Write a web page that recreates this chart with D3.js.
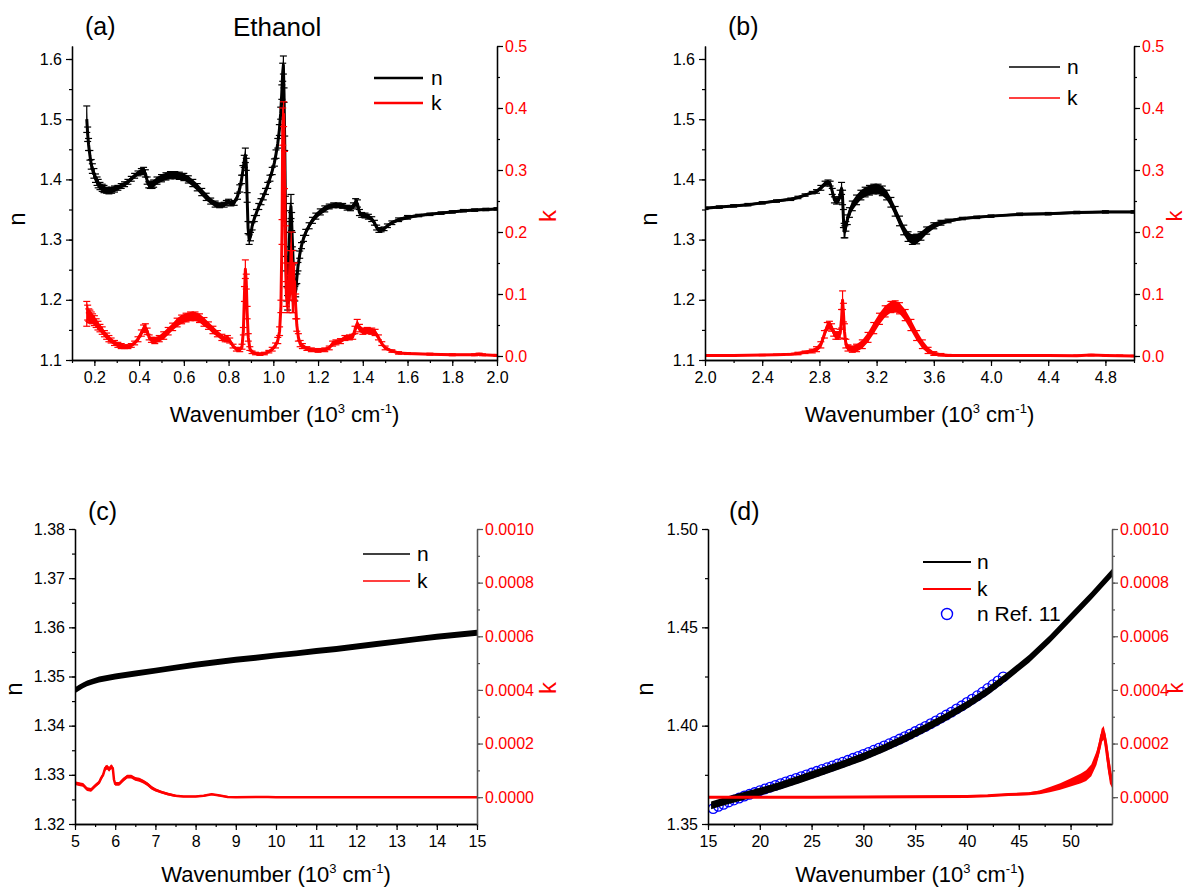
<!DOCTYPE html>
<html lang="en">
<head>
<meta charset="utf-8" />
<title>Ethanol n and k</title>
<script src="https://cdn.jsdelivr.net/npm/d3@7"></script>
<style>
  body { margin: 0; background: #fff; }
  svg text { font-family: Arial, "Liberation Sans", sans-serif; }
</style>
</head>
<body>
<svg id="chart" width="1187" height="888"></svg>
<script>
// data: [wavenumber (10^3 cm-1), value, error]
// panel (a), 0.1 - 2.0
var aN = [
  [0.166,1.500,0.022],[0.170,1.475,0.012],[0.174,1.458,0.010],[0.180,1.440,0.008],[0.186,1.425,0.008],
  [0.191,1.418,0.008],[0.198,1.410,0.008],[0.205,1.402,0.007],[0.212,1.397,0.007],[0.217,1.393,0.007],
  [0.225,1.389,0.006],[0.235,1.386,0.006],[0.243,1.384,0.006],[0.255,1.382,0.005],[0.265,1.381,0.005],
  [0.277,1.382,0.005],[0.290,1.384,0.005],[0.305,1.386,0.004],[0.320,1.389,0.004],[0.335,1.392,0.004],
  [0.350,1.396,0.004],[0.365,1.401,0.004],[0.380,1.406,0.004],[0.395,1.410,0.004],[0.410,1.413,0.005],
  [0.420,1.414,0.006],[0.428,1.410,0.006],[0.436,1.398,0.006],[0.443,1.391,0.005],[0.450,1.390,0.005],
  [0.458,1.391,0.006],[0.465,1.393,0.006],[0.480,1.398,0.006],[0.500,1.402,0.006],[0.520,1.405,0.006],
  [0.540,1.407,0.006],[0.560,1.407,0.006],[0.580,1.406,0.006],[0.600,1.404,0.006],[0.620,1.400,0.006],
  [0.640,1.394,0.006],[0.660,1.387,0.006],[0.680,1.379,0.006],[0.700,1.371,0.006],[0.720,1.364,0.005],
  [0.740,1.359,0.005],[0.760,1.357,0.004],[0.780,1.358,0.004],[0.790,1.361,0.004],[0.800,1.363,0.004],
  [0.810,1.360,0.004],[0.825,1.361,0.004],[0.840,1.372,0.005],[0.850,1.385,0.006],[0.858,1.400,0.007],
  [0.864,1.415,0.008],[0.870,1.430,0.010],[0.875,1.440,0.012],[0.879,1.425,0.010],[0.883,1.370,0.008],
  [0.887,1.320,0.010],[0.892,1.300,0.008],[0.898,1.305,0.007],[0.905,1.322,0.006],[0.915,1.335,0.005],
  [0.925,1.345,0.005],[0.935,1.355,0.005],[0.945,1.363,0.005],[0.955,1.371,0.005],[0.965,1.380,0.005],
  [0.975,1.390,0.005],[0.985,1.402,0.005],[0.995,1.414,0.006],[1.005,1.428,0.006],[1.012,1.442,0.007],
  [1.020,1.460,0.008],[1.027,1.482,0.009],[1.033,1.510,0.010],[1.038,1.545,0.012],[1.042,1.578,0.015],
  [1.045,1.590,0.015],[1.048,1.540,0.012],[1.051,1.460,0.012],[1.054,1.360,0.012],[1.057,1.260,0.012],
  [1.060,1.210,0.012],[1.064,1.195,0.012],[1.068,1.230,0.012],[1.072,1.300,0.012],[1.076,1.345,0.015],
  [1.079,1.355,0.020],[1.082,1.330,0.015],[1.085,1.300,0.012],[1.088,1.270,0.012],[1.092,1.230,0.012],
  [1.096,1.210,0.012],[1.100,1.215,0.010],[1.105,1.235,0.008],[1.110,1.255,0.007],[1.118,1.275,0.006],
  [1.126,1.290,0.005],[1.135,1.302,0.005],[1.145,1.312,0.005],[1.160,1.323,0.005],[1.175,1.332,0.005],
  [1.190,1.339,0.005],[1.210,1.346,0.005],[1.230,1.351,0.005],[1.250,1.355,0.004],[1.270,1.357,0.004],
  [1.290,1.357,0.004],[1.310,1.356,0.004],[1.330,1.353,0.004],[1.345,1.352,0.004],[1.358,1.356,0.005],
  [1.368,1.362,0.006],[1.376,1.360,0.006],[1.385,1.345,0.005],[1.395,1.341,0.004],[1.410,1.340,0.004],
  [1.425,1.338,0.004],[1.440,1.334,0.004],[1.452,1.328,0.004],[1.462,1.320,0.004],[1.472,1.316,0.004],
  [1.482,1.316,0.003],[1.495,1.318,0.003],[1.510,1.323,0.003],[1.530,1.328,0.003],[1.560,1.333,0.003],
  [1.600,1.337,0.003],[1.650,1.340,0.002],[1.700,1.342,0.002],[1.750,1.344,0.002],[1.800,1.346,0.002],
  [1.850,1.348,0.002],[1.900,1.349,0.002],[1.950,1.350,0.002],[2.000,1.351,0.002]
];
var aK = [
  [0.166,0.068,0.020],[0.170,0.070,0.012],[0.175,0.066,0.010],[0.180,0.064,0.010],[0.186,0.062,0.009],
  [0.192,0.060,0.008],[0.200,0.057,0.008],[0.208,0.053,0.007],[0.216,0.049,0.007],[0.225,0.045,0.006],
  [0.235,0.041,0.006],[0.245,0.036,0.005],[0.255,0.032,0.005],[0.265,0.028,0.005],[0.275,0.025,0.004],
  [0.290,0.021,0.004],[0.305,0.018,0.004],[0.320,0.016,0.004],[0.335,0.015,0.003],[0.350,0.015,0.003],
  [0.365,0.017,0.003],[0.380,0.021,0.003],[0.395,0.027,0.004],[0.410,0.037,0.005],[0.420,0.044,0.006],
  [0.428,0.046,0.006],[0.436,0.040,0.005],[0.445,0.030,0.004],[0.455,0.026,0.004],[0.470,0.025,0.005],
  [0.490,0.028,0.005],[0.510,0.033,0.006],[0.530,0.040,0.006],[0.550,0.047,0.006],[0.570,0.054,0.007],
  [0.590,0.059,0.007],[0.610,0.062,0.007],[0.630,0.064,0.007],[0.650,0.064,0.007],[0.670,0.061,0.007],
  [0.690,0.055,0.007],[0.710,0.049,0.006],[0.730,0.042,0.006],[0.750,0.036,0.005],[0.770,0.030,0.005],
  [0.785,0.027,0.004],[0.795,0.028,0.005],[0.805,0.025,0.004],[0.820,0.016,0.003],[0.835,0.011,0.003],
  [0.850,0.010,0.003],[0.860,0.015,0.004],[0.866,0.040,0.006],[0.871,0.100,0.012],[0.875,0.140,0.015],
  [0.879,0.120,0.012],[0.883,0.070,0.010],[0.888,0.030,0.006],[0.895,0.012,0.003],[0.905,0.006,0.002],
  [0.920,0.004,0.002],[0.940,0.003,0.002],[0.960,0.004,0.002],[0.980,0.007,0.002],[0.995,0.011,0.003],
  [1.010,0.017,0.004],[1.020,0.025,0.005],[1.028,0.040,0.007],[1.034,0.080,0.010],[1.039,0.200,0.020],
  [1.042,0.370,0.030],[1.046,0.390,0.020],[1.050,0.300,0.030],[1.054,0.180,0.030],[1.058,0.100,0.020],
  [1.062,0.090,0.020],[1.066,0.120,0.030],[1.070,0.100,0.030],[1.075,0.130,0.040],[1.080,0.150,0.050],
  [1.085,0.120,0.050],[1.090,0.110,0.040],[1.095,0.120,0.030],[1.100,0.080,0.020],[1.105,0.050,0.010],
  [1.112,0.030,0.006],[1.120,0.020,0.005],[1.130,0.016,0.004],[1.150,0.012,0.003],[1.170,0.010,0.003],
  [1.200,0.009,0.003],[1.230,0.010,0.003],[1.250,0.013,0.003],[1.265,0.020,0.004],[1.280,0.022,0.004],
  [1.300,0.024,0.004],[1.320,0.029,0.004],[1.340,0.030,0.004],[1.355,0.031,0.004],[1.365,0.042,0.006],
  [1.375,0.052,0.007],[1.385,0.045,0.006],[1.400,0.040,0.005],[1.420,0.041,0.005],[1.440,0.040,0.005],
  [1.455,0.038,0.005],[1.470,0.030,0.004],[1.485,0.020,0.003],[1.500,0.013,0.003],[1.530,0.008,0.002],
  [1.560,0.005,0.002],[1.600,0.004,0.0015],[1.700,0.003,0.0015],[1.800,0.002,0.0015],[1.900,0.002,0.0015],
  [1.920,0.003,0.0015],[1.935,0.002,0.0015],[2.000,0.001,0.0015]
];

// panel (b), 2.0 - 5.0
var bN = [
  [2.00,1.352,0.002],[2.10,1.354,0.002],[2.20,1.356,0.002],[2.30,1.358,0.002],[2.40,1.361,0.002],
  [2.50,1.364,0.002],[2.60,1.367,0.002],[2.65,1.370,0.002],[2.70,1.374,0.002],[2.75,1.378,0.002],
  [2.78,1.380,0.003],[2.81,1.386,0.004],[2.84,1.393,0.004],[2.86,1.395,0.004],[2.875,1.393,0.004],
  [2.89,1.380,0.005],[2.905,1.366,0.005],[2.92,1.364,0.005],[2.935,1.366,0.005],[2.945,1.375,0.007],
  [2.955,1.385,0.010],[2.962,1.370,0.012],[2.968,1.335,0.015],[2.973,1.315,0.012],[2.978,1.313,0.010],
  [2.985,1.322,0.008],[2.995,1.333,0.008],[3.01,1.345,0.008],[3.03,1.356,0.008],[3.06,1.366,0.008],
  [3.09,1.374,0.008],[3.12,1.379,0.008],[3.15,1.382,0.008],[3.18,1.384,0.008],[3.21,1.384,0.008],
  [3.24,1.381,0.008],[3.27,1.374,0.008],[3.30,1.362,0.008],[3.33,1.347,0.008],[3.36,1.331,0.008],
  [3.39,1.316,0.008],[3.42,1.305,0.008],[3.45,1.300,0.008],[3.48,1.301,0.008],[3.51,1.306,0.007],
  [3.55,1.315,0.006],[3.60,1.323,0.005],[3.65,1.328,0.004],[3.70,1.331,0.003],[3.80,1.335,0.002],
  [3.90,1.337,0.002],[4.00,1.339,0.002],[4.20,1.342,0.002],[4.40,1.343,0.002],[4.60,1.345,0.002],
  [4.80,1.346,0.002],[5.00,1.346,0.002]
];
var bK = [
  [2.00,0.001,0.001],[2.20,0.001,0.001],[2.40,0.0015,0.001],[2.50,0.002,0.001],[2.60,0.003,0.001],
  [2.65,0.004,0.002],[2.70,0.006,0.002],[2.75,0.008,0.003],[2.78,0.011,0.004],[2.81,0.018,0.005],
  [2.835,0.035,0.006],[2.855,0.048,0.006],[2.87,0.050,0.006],[2.885,0.046,0.006],[2.90,0.038,0.006],
  [2.915,0.033,0.006],[2.93,0.033,0.006],[2.945,0.036,0.007],[2.955,0.060,0.015],[2.962,0.090,0.015],
  [2.968,0.070,0.015],[2.975,0.040,0.012],[2.985,0.020,0.007],[3.00,0.013,0.005],[3.03,0.011,0.005],
  [3.06,0.013,0.006],[3.10,0.019,0.007],[3.14,0.030,0.008],[3.18,0.045,0.009],[3.22,0.060,0.009],
  [3.26,0.072,0.009],[3.30,0.079,0.009],[3.33,0.080,0.009],[3.36,0.077,0.009],[3.40,0.066,0.009],
  [3.44,0.050,0.009],[3.48,0.033,0.008],[3.52,0.019,0.007],[3.56,0.009,0.005],[3.60,0.004,0.003],
  [3.65,0.002,0.002],[3.70,0.001,0.0015],[3.80,0.001,0.001],[4.00,0.001,0.001],[4.20,0.001,0.001],
  [4.40,0.001,0.001],[4.60,0.0005,0.001],[4.70,0.0015,0.001],[4.80,0.001,0.001],[4.90,0.0005,0.001],
  [5.00,0.000,0.001]
];

// panel (c), 5 - 15
var cN = [
  [5.0,1.3472,0.0006],[5.1,1.3477,0.0006],[5.2,1.3482,0.0006],[5.3,1.3486,0.0006],[5.45,1.3490,0.0006],
  [5.6,1.3494,0.0006],[5.8,1.3497,0.0006],[6.0,1.3500,0.0006],[6.5,1.3506,0.0006],[7.0,1.3512,0.0006],
  [7.5,1.3518,0.0006],[8.0,1.3524,0.0006],[8.5,1.3529,0.0006],[9.0,1.3534,0.0006],[9.5,1.3538,0.0006],
  [10.0,1.3543,0.0006],[10.5,1.3547,0.0006],[11.0,1.3552,0.0006],[11.5,1.3556,0.0006],[12.0,1.3561,0.0006],
  [12.5,1.3566,0.0006],[13.0,1.3571,0.0006],[13.5,1.3576,0.0006],[14.0,1.3581,0.0006],[14.5,1.3585,0.0006],
  [15.0,1.3589,0.0006]
];
var cK = [
  [5.0,5.2e-5,7e-6],[5.1,4.9e-5,7e-6],[5.2,4.6e-5,7e-6],[5.3,3.0e-5,7e-6],[5.4,2.7e-5,7e-6],
  [5.5,4.2e-5,7e-6],[5.6,5.5e-5,7e-6],[5.65,7.1e-5,8e-6],[5.7,8.3e-5,8e-6],[5.75,1.08e-4,9e-6],
  [5.8,1.12e-4,9e-6],[5.85,1.04e-4,9e-6],[5.9,1.14e-4,9e-6],[5.94,1.08e-4,9e-6],[5.97,6.5e-5,8e-6],
  [6.0,5.0e-5,7e-6],[6.1,5.0e-5,7e-6],[6.2,6.5e-5,7e-6],[6.3,7.7e-5,7e-6],[6.4,7.7e-5,7e-6],
  [6.5,6.8e-5,7e-6],[6.6,6.5e-5,7e-6],[6.7,5.8e-5,7e-6],[6.8,4.9e-5,7e-6],[6.9,3.6e-5,7e-6],
  [7.0,2.7e-5,6e-6],[7.15,1.9e-5,5e-6],[7.3,1.2e-5,5e-6],[7.5,5e-6,4e-6],[7.7,2.5e-6,3e-6],
  [8.0,2.5e-6,3e-6],[8.2,5e-6,3e-6],[8.4,1.1e-5,3e-6],[8.6,6e-6,3e-6],[8.8,1e-6,3e-6],
  [9.0,0,2e-6],[9.8,1e-6,2e-6],[10,0,2e-6],[11,0,2e-6],[12,0,2e-6],[13,0,2e-6],[14,0,2e-6],[15,0,2e-6]
];

// panel (d), 15 - 54
var dN = [
  [15.3,1.3595,0.002],[16,1.3606,0.002],[17,1.3622,0.002],[18,1.3636,0.002],[20,1.3664,0.002],
  [22,1.3695,0.002],[24,1.3730,0.002],[26,1.3767,0.002],[28,1.3803,0.002],[30,1.3842,0.002],
  [32,1.3886,0.002],[34,1.3935,0.002],[36,1.3988,0.002],[38,1.4045,0.002],[40,1.4106,0.002],
  [42,1.4175,0.002],[44,1.4255,0.002],[46,1.4340,0.002],[48,1.4440,0.002],[50,1.4550,0.002],
  [52,1.4660,0.002],[54,1.4776,0.002]
];
var dK = [
  [15,0,3e-6],[20,0,3e-6],[25,0,3e-6],[30,1e-6,3e-6],[35,2e-6,3e-6],[40,3e-6,3e-6],[42,5e-6,3e-6],
  [44,1e-5,4e-6],[46,1.3e-5,5e-6],[47,1.8e-5,7e-6],[48,2.8e-5,1e-5],[49,4e-5,1.2e-5],[50,5.5e-5,1.5e-5],
  [51,7e-5,1.8e-5],[51.5,8e-5,2e-5],[52,1e-4,2.2e-5],[52.5,1.45e-4,2.5e-5],[52.8,1.9e-4,2.5e-5],
  [53,2.3e-4,2.5e-5],[53.2,2.4e-4,2.5e-5],[53.4,2.0e-4,3e-5],[53.6,1.4e-4,4e-5],[53.8,9e-5,4e-5],
  [54,5.5e-5,2e-5]
];
// n Ref. 11 (open circles)
var dRef = [
  [15.5,1.3578],[16,1.3590],[16.5,1.3600],[17,1.3612],[17.5,1.3622],[18,1.3632],[18.5,1.3642],[19,1.3651],
  [19.5,1.3660],[20,1.3669],[20.5,1.3678],[21,1.3687],[21.5,1.3696],[22,1.3705],[22.5,1.3714],[23,1.3723],
  [23.5,1.3732],[24,1.3741],[24.5,1.3750],[25,1.3759],[25.5,1.3768],[26,1.3777],[26.5,1.3786],[27,1.3795],
  [27.5,1.3805],[28,1.3814],[28.5,1.3824],[29,1.3834],[29.5,1.3844],[30,1.3854],[30.5,1.3864],[31,1.3875],
  [31.5,1.3886],[32,1.3897],[32.5,1.3908],[33,1.3920],[33.5,1.3932],[34,1.3944],[34.5,1.3957],[35,1.3970],
  [35.5,1.3983],[36,1.3996],[36.5,1.4010],[37,1.4024],[37.5,1.4039],[38,1.4054],[38.5,1.4069],[39,1.4085],
  [39.5,1.4101],[40,1.4118],[40.5,1.4135],[41,1.4152],[41.5,1.4170],[42,1.4189],[42.5,1.4208],[43,1.4228],
  [43.5,1.4248]
];

var svg = d3.select("#chart");
var RED = "#ff0000";

var panels = [
  { tag: "(a)", tagX: 85, tagY: 35,
    left: 72, right: 497, top: 46, bottom: 360,
    xDom: [0.1, 2.0], nDom: [1.1, 1.6216], kDom: [-0.00645, 0.5],
    xMajor: d3.range(0.2, 2.001, 0.2), xMinor: d3.range(0.1, 2.001, 0.1), xFmt: ".1f",
    nMajor: d3.range(1.1, 1.601, 0.1), nMinor: d3.range(1.1, 1.621, 0.05), nFmt: ".1f",
    kMajor: d3.range(0, 0.501, 0.1), kMinor: d3.range(0, 0.501, 0.05), kFmt: ".1f",
    rightColor: "#000",
    nTitle: [25, 219], kTitle: [556, 216], kSize: 24, xTitleY: 422,
    leg: { x1: 374, x2: 423, tx: 431, y: [78, 103], w: 2.5 },
    n: aN, k: aK, caps: true, lw: 3 },
  { tag: "(b)", tagX: 728, tagY: 35,
    left: 705, right: 1134, top: 46, bottom: 360,
    xDom: [2.0, 5.0], nDom: [1.1, 1.6216], kDom: [-0.00645, 0.5],
    xMajor: d3.range(2.0, 4.801, 0.4), xMinor: d3.range(2.0, 5.001, 0.2), xFmt: ".1f",
    nMajor: d3.range(1.1, 1.601, 0.1), nMinor: d3.range(1.1, 1.621, 0.05), nFmt: ".1f",
    kMajor: d3.range(0, 0.501, 0.1), kMinor: d3.range(0, 0.501, 0.05), kFmt: ".1f",
    rightColor: "#000",
    nTitle: [657, 219], kTitle: [1182, 216], kSize: 22, xTitleY: 422,
    leg: { x1: 1009, x2: 1060, tx: 1067, y: [67, 98], w: 1.5 },
    n: bN, k: bK, caps: true, lw: 3 },
  { tag: "(c)", tagX: 88, tagY: 520,
    left: 75, right: 477, top: 529, bottom: 824,
    xDom: [5, 15], nDom: [1.32, 1.38], kDom: [-0.0001, 0.001],
    xMajor: d3.range(5, 15.01, 1), xMinor: d3.range(5, 15.01, 0.5), xFmt: "d",
    nMajor: d3.range(1.32, 1.3801, 0.01), nMinor: d3.range(1.32, 1.3801, 0.005), nFmt: ".2f",
    kMajor: d3.range(0, 0.00101, 0.0002), kMinor: d3.range(0, 0.00101, 0.0001), kFmt: ".4f",
    rightColor: "#555",
    nTitle: [22, 689], kTitle: [556, 688], kSize: 24, xTitleY: 882,
    leg: { x1: 363, x2: 410, tx: 417, y: [554, 581], w: 1.5 },
    n: cN, k: cK, caps: false, lw: 2.5 },
  { tag: "(d)", tagX: 729, tagY: 520,
    left: 708, right: 1112, top: 529, bottom: 824,
    xDom: [15, 54], nDom: [1.35, 1.50], kDom: [-0.0001, 0.001],
    xMajor: d3.range(15, 50.1, 5), xMinor: d3.range(15, 54, 2.5), xFmt: "d",
    nMajor: d3.range(1.35, 1.5001, 0.05), nMinor: d3.range(1.35, 1.5001, 0.025), nFmt: ".2f",
    kMajor: d3.range(0, 0.00101, 0.0002), kMinor: d3.range(0, 0.00101, 0.0001), kFmt: ".4f",
    rightColor: "#555",
    nTitle: [653, 689], kTitle: [1183, 688], kSize: 22, xTitleY: 882,
    leg: { x1: 923, x2: 971, tx: 977, y: [562, 589], w: 2 },
    n: dN, k: dK, ref: dRef, caps: false, lw: 3 }
];

function styleAxis(g, color, textColor) {
  g.select(".domain").attr("stroke", color).attr("stroke-width", 1.3);
  g.selectAll(".tick line").attr("stroke", color).attr("stroke-width", 1.2);
  g.selectAll(".tick text").attr("fill", textColor).style("font-size", "16px")
    .style("font-family", "Arial, 'Liberation Sans', sans-serif");
}

function drawSeries(g, data, x, y, color, caps, lw) {
  g.append("path")
    .datum(data)
    .attr("fill", color)
    .attr("d", d3.area()
      .x(function (d) { return x(d[0]); })
      .y0(function (d) { return y(d[1] - d[2]); })
      .y1(function (d) { return y(d[1] + d[2]); }));
  g.append("path")
    .datum(data)
    .attr("fill", "none")
    .attr("stroke", color)
    .attr("stroke-width", lw)
    .attr("stroke-linejoin", "round")
    .attr("d", d3.line()
      .x(function (d) { return x(d[0]); })
      .y(function (d) { return y(d[1]); }));
  if (caps) {
    var bars = g.append("g").attr("stroke", color).attr("stroke-width", 1.2);
    data.forEach(function (d) {
      var cx = x(d[0]), y1 = y(d[1] + d[2]), y2 = y(d[1] - d[2]);
      bars.append("line").attr("x1", cx).attr("x2", cx).attr("y1", y1).attr("y2", y2);
      bars.append("line").attr("x1", cx - 3.5).attr("x2", cx + 3.5).attr("y1", y1).attr("y2", y1);
      bars.append("line").attr("x1", cx - 3.5).attr("x2", cx + 3.5).attr("y1", y2).attr("y2", y2);
    });
  }
}

panels.forEach(function (p, i) {
  var x = d3.scaleLinear().domain(p.xDom).range([p.left, p.right]);
  var yn = d3.scaleLinear().domain(p.nDom).range([p.bottom, p.top]);
  var yk = d3.scaleLinear().domain(p.kDom).range([p.bottom, p.top]);

  var clipId = "clip" + i;
  svg.append("clipPath").attr("id", clipId)
    .append("rect")
    .attr("x", p.left).attr("y", p.top - 2)
    .attr("width", p.right - p.left).attr("height", p.bottom - p.top + 2);

  var plot = svg.append("g").attr("clip-path", "url(#" + clipId + ")");

  if (p.ref) {
    plot.append("g").selectAll("circle")
      .data(p.ref)
      .enter().append("circle")
      .attr("cx", function (d) { return x(d[0]); })
      .attr("cy", function (d) { return yn(d[1]); })
      .attr("r", 4.8)
      .attr("fill", "none")
      .attr("stroke", "#0000ff")
      .attr("stroke-width", 1.3);
  }
  drawSeries(plot, p.n, x, yn, "#000", p.caps, p.lw);
  drawSeries(plot, p.k, x, yk, RED, p.caps, p.lw);

  // axes: minor ticks first, then major with labels
  var gx = svg.append("g").attr("transform", "translate(0," + p.bottom + ")");
  gx.append("g").call(d3.axisBottom(x).tickValues(p.xMinor).tickSize(3).tickFormat("").tickSizeOuter(0));
  gx.append("g").call(d3.axisBottom(x).tickValues(p.xMajor).tickSize(6).tickPadding(6)
    .tickFormat(d3.format(p.xFmt)).tickSizeOuter(0));
  gx.selectAll("g").each(function () { styleAxis(d3.select(this), "#000", "#000"); });

  var gl = svg.append("g").attr("transform", "translate(" + p.left + ",0)");
  gl.append("g").call(d3.axisLeft(yn).tickValues(p.nMinor).tickSize(3).tickFormat("").tickSizeOuter(0));
  gl.append("g").call(d3.axisLeft(yn).tickValues(p.nMajor).tickSize(6).tickPadding(4)
    .tickFormat(d3.format(p.nFmt)).tickSizeOuter(0));
  gl.selectAll("g").each(function () { styleAxis(d3.select(this), "#000", "#000"); });

  var gr = svg.append("g").attr("transform", "translate(" + p.right + ",0)");
  gr.append("g").call(d3.axisRight(yk).tickValues(p.kMinor).tickSize(3).tickFormat("").tickSizeOuter(0));
  gr.append("g").call(d3.axisRight(yk).tickValues(p.kMajor).tickSize(6).tickPadding(2)
    .tickFormat(d3.format(p.kFmt)).tickSizeOuter(0));
  gr.selectAll("g").each(function () { styleAxis(d3.select(this), p.rightColor, RED); });

  // panel tag
  svg.append("text").attr("x", p.tagX).attr("y", p.tagY)
    .style("font-size", "25px").text(p.tag);

  // x title with superscripts
  var xt = svg.append("text")
    .attr("x", (p.left + p.right) / 2).attr("y", p.xTitleY)
    .attr("text-anchor", "middle").style("font-size", "22px");
  xt.append("tspan").text("Wavenumber (10");
  xt.append("tspan").attr("dy", -9).style("font-size", "13px").text("3");
  xt.append("tspan").attr("dy", 9).text(" cm");
  xt.append("tspan").attr("dy", -9).style("font-size", "13px").text("-1");
  xt.append("tspan").attr("dy", 9).text(")");

  svg.append("text")
    .attr("transform", "translate(" + p.nTitle[0] + "," + p.nTitle[1] + ") rotate(-90)")
    .attr("text-anchor", "middle").style("font-size", "24px").text("n");
  svg.append("text")
    .attr("transform", "translate(" + p.kTitle[0] + "," + p.kTitle[1] + ") rotate(-90)")
    .attr("text-anchor", "middle").attr("fill", RED).style("font-size", p.kSize + "px").text("k");

  // legend
  var leg = svg.append("g");
  [["n", "#000"], ["k", RED]].forEach(function (e, j) {
    leg.append("line")
      .attr("x1", p.leg.x1).attr("x2", p.leg.x2)
      .attr("y1", p.leg.y[j]).attr("y2", p.leg.y[j])
      .attr("stroke", e[1]).attr("stroke-width", p.leg.w);
    leg.append("text")
      .attr("x", p.leg.tx).attr("y", p.leg.y[j]).attr("dy", "0.33em")
      .style("font-size", "21px").text(e[0]);
  });
  if (p.ref) {
    var ry = p.leg.y[1] + 25;
    leg.append("circle")
      .attr("cx", (p.leg.x1 + p.leg.x2) / 2).attr("cy", ry).attr("r", 5.5)
      .attr("fill", "none").attr("stroke", "#0000ff").attr("stroke-width", 1.4);
    leg.append("text")
      .attr("x", p.leg.tx).attr("y", ry).attr("dy", "0.33em")
      .style("font-size", "21px").text("n Ref. 11");
  }
});

svg.append("text").attr("x", 233).attr("y", 36)
  .style("font-size", "26px").text("Ethanol");
</script>
</body>
</html>
